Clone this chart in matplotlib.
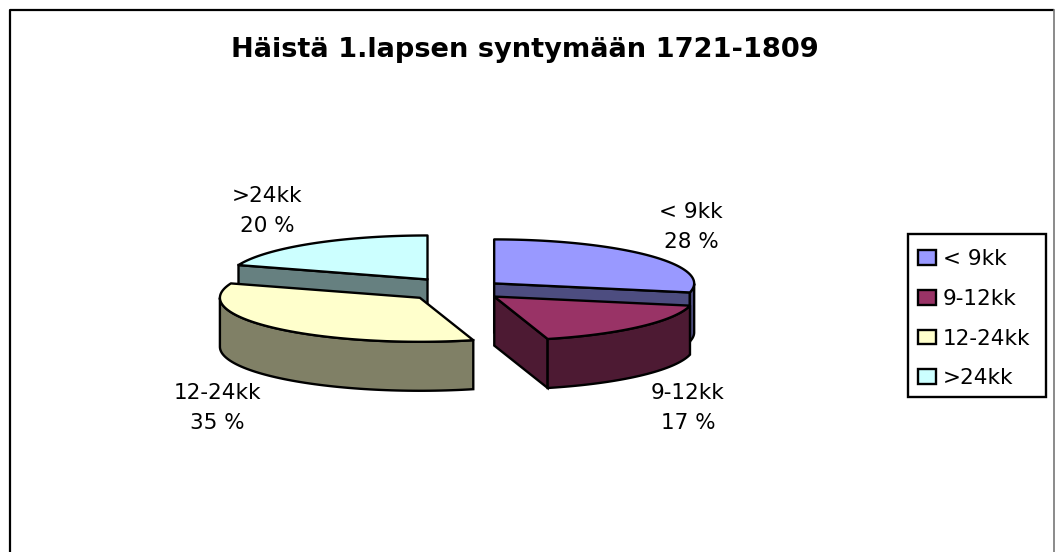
import matplotlib
matplotlib.use('Agg')
import matplotlib.pyplot as plt
from matplotlib.patches import Patch, Polygon, Rectangle
import numpy as np

plt.rcParams['font.family'] = ['DejaVu Sans']

# Data
title = 'Häistä 1.lapsen syntymään 1721-1809'
categories = ['< 9kk', '9-12kk', '12-24kk', '>24kk']
values = [28.3, 17.4, 34.6, 19.7]
percent_labels = ['28 %', '17 %', '35 %', '20 %']
explode = [0.22, 0.235, 0.275, 0.28]
colors = ['#9999FF', '#993366', '#FFFFCC', '#CCFFFF']
side_colors = ['#4D4D80', '#4D1A33', '#808066', '#668080']

# Settings (pixels of the picture)
cx, cy = 460, 289.5
rx, ry = 200, 44
depth = 49
line_w = 1.7
font_size = 15.5
label_pos = [(691, 227), (688, 408), (217, 408), (267, 211)]
draw_order = [0, 1, 3, 2]


def wedge_outline(start, end, off):
    t = np.radians(np.linspace(start, end, 80))
    x = cx + off * rx * np.sin(np.radians((start + end) / 2))
    y = cy - off * ry * np.cos(np.radians((start + end) / 2))
    return x, y, x + rx * np.sin(t), y - ry * np.cos(t)


def add_wall(ax, px, py, color, z):
    pts = np.column_stack([np.concatenate([px, px[::-1]]),
                           np.concatenate([py, py[::-1] + depth])])
    ax.add_patch(Polygon(pts, closed=True, fc=color, ec='black', lw=line_w, zorder=z))


def draw_wedge(ax, x, y, rim_x, rim_y, top, side, z):
    # walls only where the outline runs to the left, those face the viewer
    if rim_x[0] < x:
        add_wall(ax, np.array([x, rim_x[0]]), np.array([y, rim_y[0]]), side, z)
    if x < rim_x[-1]:
        add_wall(ax, np.array([rim_x[-1], x]), np.array([rim_y[-1], y]), side, z)
    front = np.where(np.diff(rim_x) < 0)[0]
    if len(front) > 0:
        keep = np.append(front, front[-1] + 1)
        add_wall(ax, rim_x[keep], rim_y[keep], side, z)
    pts = np.column_stack([np.append(x, rim_x), np.append(y, rim_y)])
    ax.add_patch(Polygon(pts, closed=True, fc=top, ec='black', lw=line_w,
                         joinstyle='round', zorder=z + 0.5))


fig = plt.figure(figsize=(10.55, 5.52), dpi=100)
ax = fig.add_axes([0, 0, 1, 1])
ax.set_xlim(0, 1055)
ax.set_ylim(552, 0)
ax.axis('off')

# chart area border, cut off at the bottom
ax.plot([10, 10, 1053], [552, 10, 10], color='black', lw=1.6)
ax.plot([1053.5, 1053.5], [10, 552], color='#777777', lw=1.2)

ends = np.cumsum(values) / np.sum(values) * 360
starts = np.concatenate([[0], ends[:-1]])

for n, i in enumerate(draw_order):
    x, y, rim_x, rim_y = wedge_outline(starts[i], ends[i], explode[i])
    draw_wedge(ax, x, y, rim_x, rim_y, colors[i], side_colors[i], 3 + n)

for i in range(len(categories)):
    ax.text(label_pos[i][0], label_pos[i][1], categories[i] + '\n' + percent_labels[i],
            ha='center', va='center', fontsize=font_size, linespacing=1.62, color='black',
            zorder=10)

ax.text(525, 50, title, ha='center', va='center', fontsize=19.6, fontweight='bold')

# legend box is drawn apart, its width is fixed in the original
ax.add_patch(Rectangle((908, 234), 138, 163, fc='white', ec='black', lw=line_w, zorder=2))
handles = [Patch(fc=colors[i], ec='black', lw=line_w) for i in range(len(categories))]
leg = ax.legend(handles, categories, loc='upper left', bbox_to_anchor=(918, 249),
                bbox_transform=ax.transData, borderaxespad=0, frameon=False,
                fontsize=font_size, handlelength=0.85, handleheight=0.68,
                handletextpad=0.3, labelspacing=0.92, borderpad=0)

fig.savefig('out.png', dpi=100)
